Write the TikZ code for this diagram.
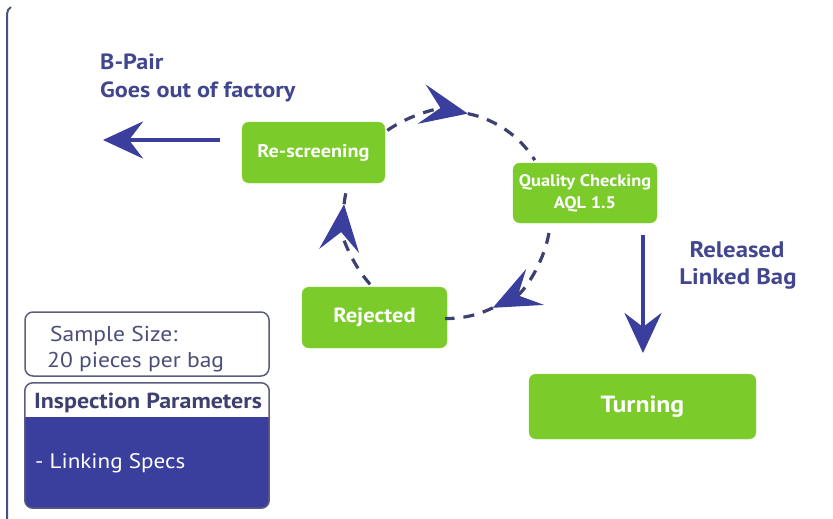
\documentclass[tikz,border=0pt]{standalone}
\usepackage{fontspec}
\setmainfont{PT Sans}[FakeStretch=1.1]
\usetikzlibrary{arrows.meta}
\definecolor{grn}{HTML}{7BCB2A}
\definecolor{arrblue}{HTML}{3A3E9C}
\definecolor{dashc}{HTML}{3E4070}
\definecolor{txtblue}{HTML}{41468F}
\definecolor{greytxt}{HTML}{4B4F78}
\definecolor{edge}{HTML}{5A5D80}
\definecolor{frame}{HTML}{4D5080}
\tikzset{
  gbox/.style={fill=grn, draw=grn!85!white, rounded corners=7pt, text=white, align=center, inner sep=0pt},
  bigarrow/.style={draw=arrblue, line width=4pt, -{Stealth[length=40pt, width=37pt, inset=14pt, color=arrblue]}},
  dashline/.style={draw=dashc, line width=3.2pt, dash pattern=on 11pt off 9pt},
  dashtip/.style={dashline, -{Stealth[length=47pt, width=40pt, inset=19pt, color=arrblue]}},
  bluetext/.style={text=txtblue, font=\bfseries\fontsize{22}{27}\selectfont, inner sep=0pt},
}
\begin{document}
\begin{tikzpicture}[x=1pt, y=-1pt]
\useasboundingbox (0,0) rectangle (833,519);
\fill[white] (0,0) rectangle (833,519);
% frame line
\draw[frame, line width=2pt] (7,519) -- (7,14) arc[start angle=180, end angle=240, radius=8];

% green boxes
\node[gbox, minimum width=143pt, minimum height=61pt, font=\bfseries\fontsize{18.4}{20}\selectfont] (rs) at (313.5,152.5) {Re-screening};
\node[gbox, minimum width=144pt, minimum height=60pt, font=\bfseries\fontsize{16.7}{22}\selectfont] (qc) at (585,193) {Quality Checking\\AQL 1.5};
\node[gbox, minimum width=145pt, minimum height=61pt, font=\bfseries\fontsize{20.5}{22}\selectfont] (rej) at (374.5,317.5) {Rejected};
\node[gbox, minimum width=227pt, minimum height=65pt, font=\bfseries\fontsize{23.4}{26}\selectfont] (turn) at (642.5,406.5) {Turning};

% texts
\node[bluetext, anchor=base west] (bp1) at (100,70) {B-Pair};
\node[bluetext, anchor=base west] (bp2) at (100,97) {Goes out of factory};
\node[bluetext, font=\bfseries\fontsize{22.5}{27}\selectfont, anchor=base] (rel1) at (737,257) {Released};
\node[bluetext, font=\bfseries\fontsize{22.5}{27}\selectfont, anchor=base] (rel2) at (738,284) {Linked Bag};

% solid arrows
\coordinate (lstart) at (220,140);
\coordinate (lend) at (103,140);
\draw[bigarrow] (lstart) -- (lend);
\coordinate (dstart) at (643,235);
\coordinate (dend) at (643,353);
\draw[bigarrow] (dstart) -- (dend);

% dashed cycle
\coordinate (ctr) at (447,215);
\coordinate (a1) at ([shift={(-125.2:103.5)}]ctr);
\coordinate (t1) at ([shift={(-78.4:103.5)}]ctr);
\coordinate (a2) at ([shift={(10:103.5)}]ctr);
\coordinate (t2) at ([shift={(63.7:103.5)}]ctr);
\coordinate (a3) at ([shift={(138:103.5)}]ctr);
\coordinate (t3) at ([shift={(186:103.5)}]ctr);
\draw[dashtip] (a1) arc[start angle=-125.2, end angle=-78.4, radius=103.5];
\draw[dashline] (t1) arc[start angle=-78.4, end angle=-32, radius=103.5];
\draw[dashtip] (a2) arc[start angle=10, end angle=63.7, radius=103.5];
\draw[dashline] (t2) arc[start angle=63.7, end angle=91, radius=103.5];
\draw[dashtip] (a3) arc[start angle=138, end angle=186, radius=103.5];
\draw[dashline] (t3) arc[start angle=186, end angle=196, radius=103.5];

% sample size box
\node[draw=edge, line width=1.5pt, rounded corners=8pt, minimum width=244pt, minimum height=64pt] (ss) at (147,344) {};
\node[text=greytxt, font=\fontsize{21.4}{26}\selectfont, anchor=base west, inner sep=0pt] (sst1) at (50,341) {Sample Size:};
\node[text=greytxt, font=\fontsize{21.4}{26}\selectfont, anchor=base west, inner sep=0pt] (sst2) at (47,367) {20 pieces per bag};

% inspection box
\node[minimum width=244pt, minimum height=125pt, inner sep=0pt] (insp) at (147,445.5) {};
\begin{scope}
\clip[rounded corners=8pt] (insp.north west) rectangle (insp.south east);
\fill[arrblue] (25,417) rectangle (insp.south east);
\end{scope}
\draw[draw=edge, line width=1.5pt, rounded corners=8pt] (insp.north west) rectangle (insp.south east);
\node[text=dashc, font=\bfseries\fontsize{21.8}{24}\selectfont, anchor=base, inner sep=0pt] (ipt) at (148,408) {Inspection Parameters};
\node[text=white, font=\fontsize{21}{24}\selectfont, anchor=base west, inner sep=0pt] (lsp) at (35,468) {- Linking Specs};
\end{tikzpicture}
\end{document}
